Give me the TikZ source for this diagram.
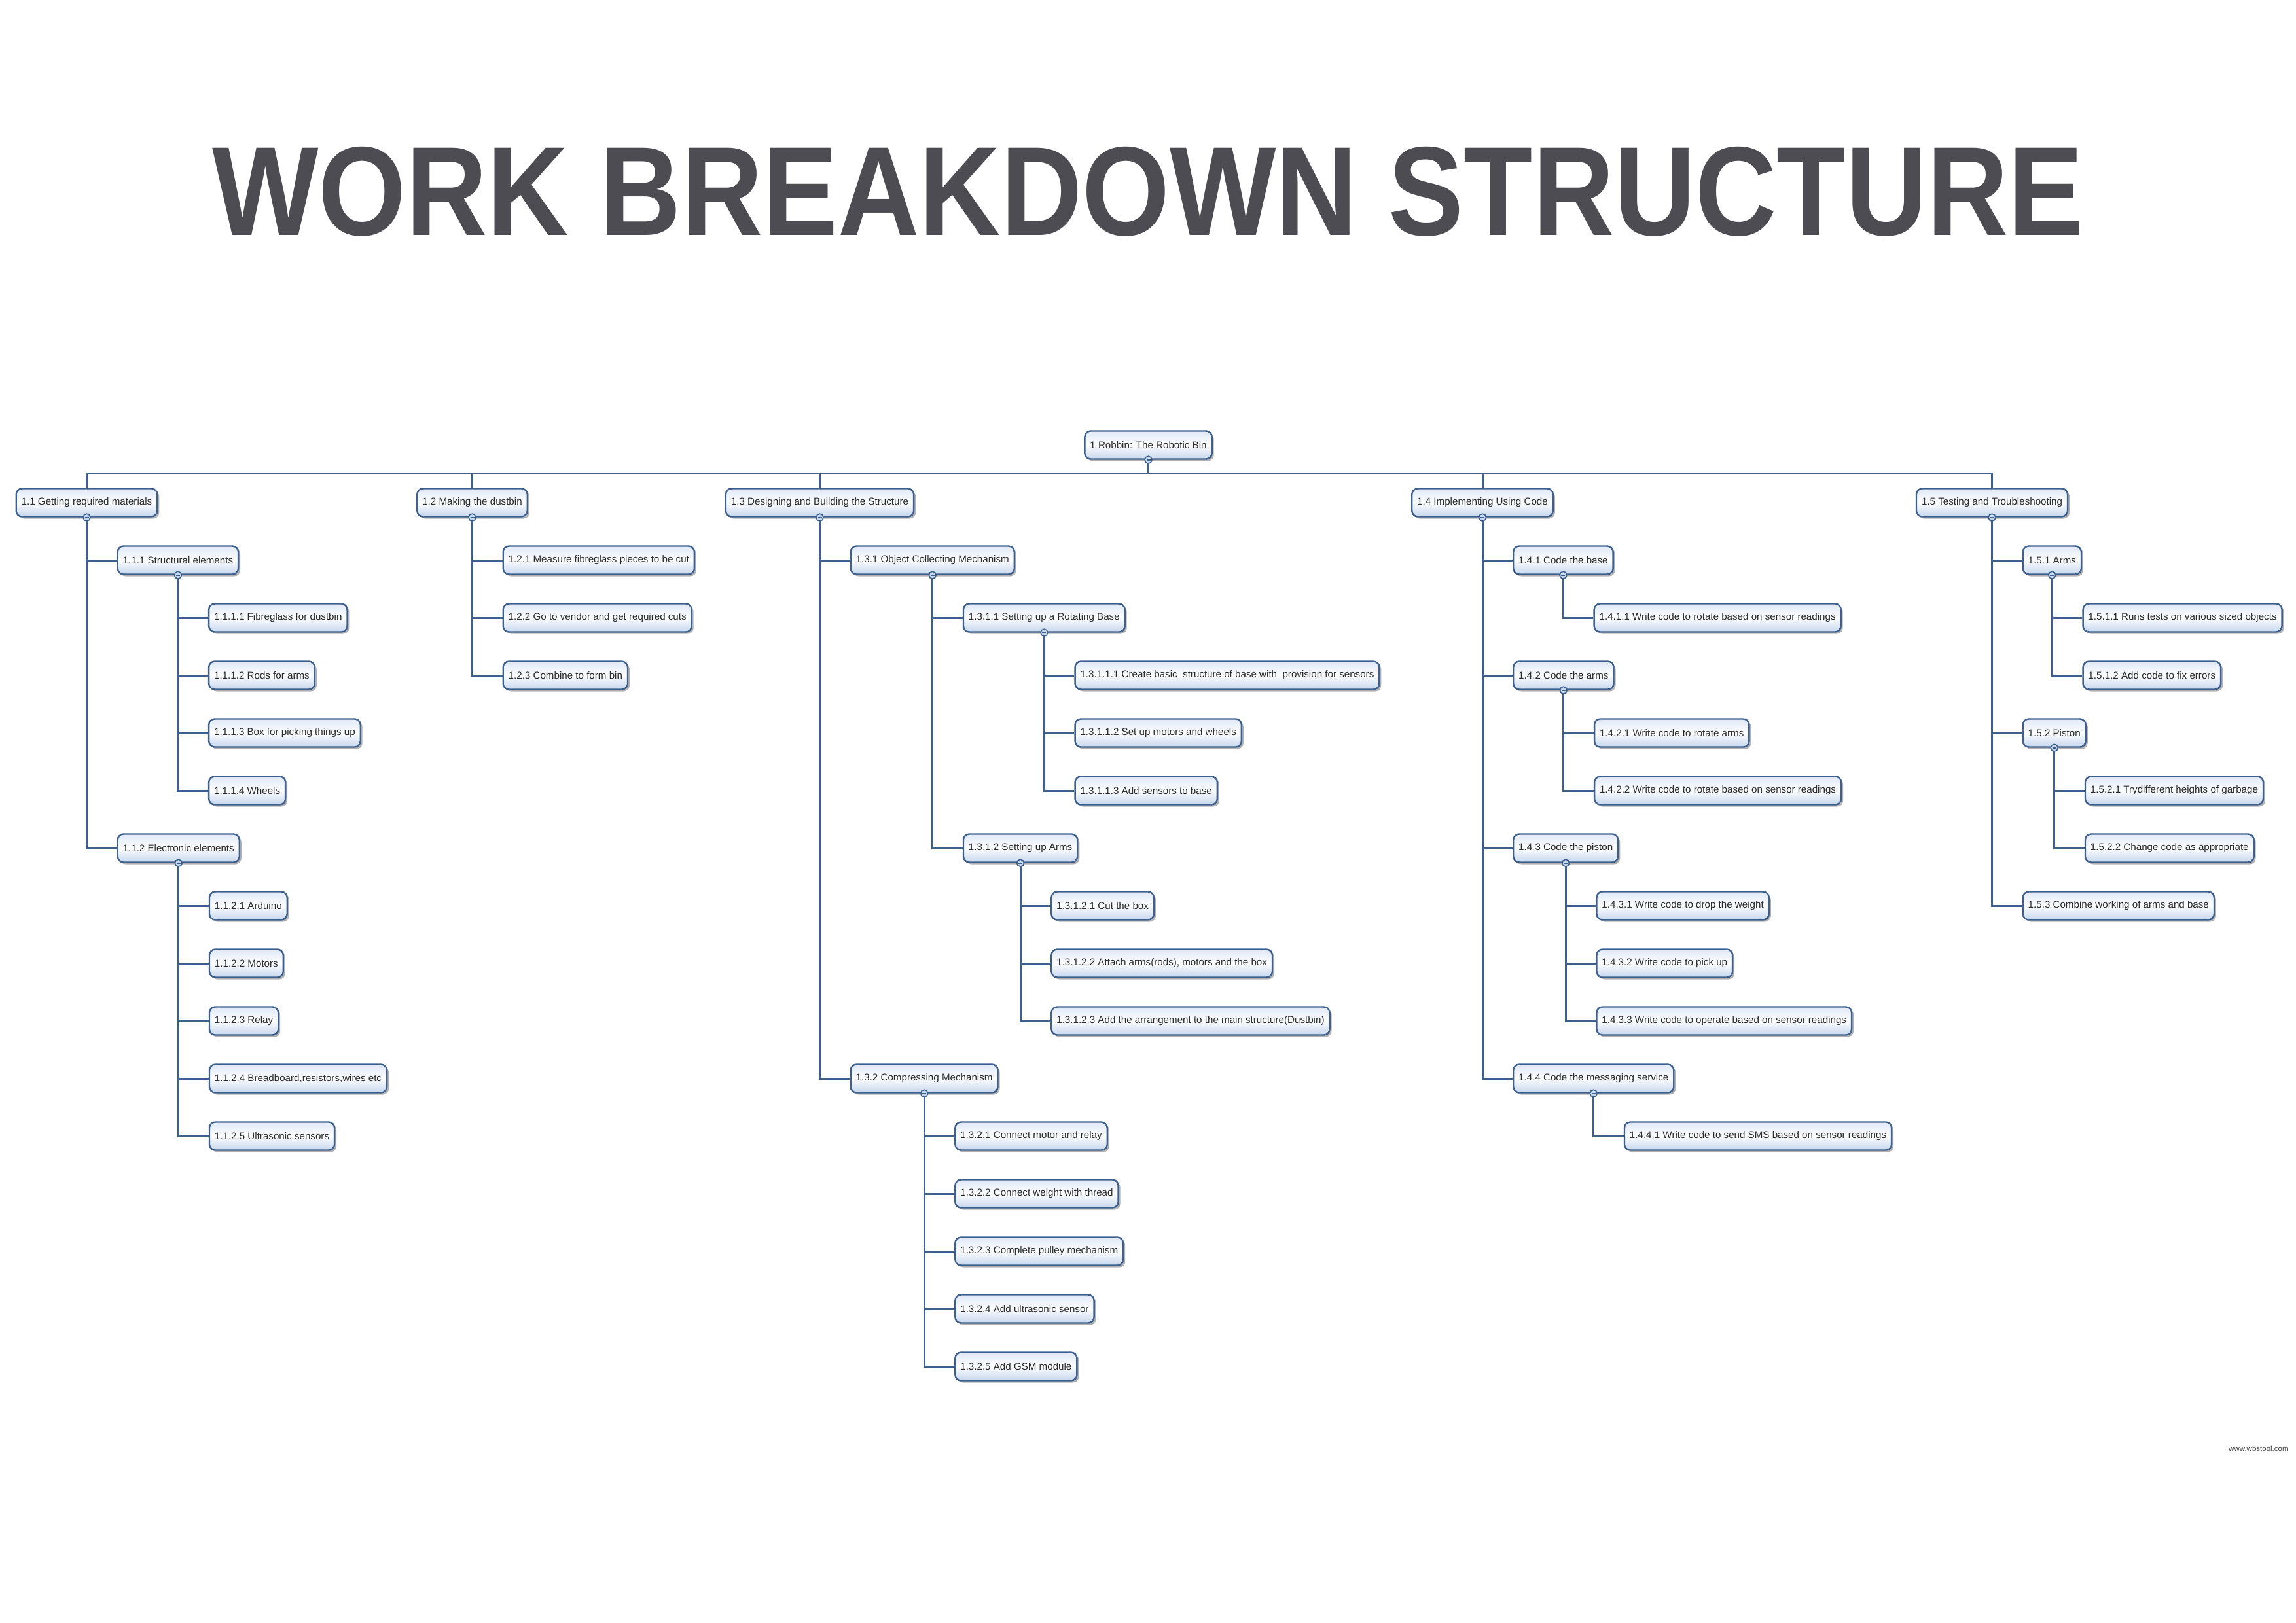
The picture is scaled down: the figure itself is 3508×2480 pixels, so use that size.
\documentclass[tikz,border=0pt]{standalone}
\usepackage{graphicx}
\usepackage{fontspec}
\setmainfont{Liberation Sans}
\usetikzlibrary{shadows}
\definecolor{wbsline}{RGB}{62,96,142}
\definecolor{wbstop}{RGB}{224,233,246}
\definecolor{wbsbot}{RGB}{198,215,238}
\definecolor{wbstext}{RGB}{45,45,45}
\definecolor{titlegray}{RGB}{77,76,82}
\definecolor{knobfill}{RGB}{200,216,236}
\tikzset{
  wbs/.style={draw=wbsline, line width=2.4pt, rounded corners=9pt,
    top color=wbstop, bottom color=wbsbot, middle color=white!92!wbstop,
    minimum height=43pt, inner xsep=8pt, inner ysep=0pt,
    font=\fontsize{15.15}{18}\selectfont, text=wbstext,
    drop shadow={shadow xshift=3pt, shadow yshift=-3pt, opacity=0.3, fill=black}},
  conn/.style={draw=wbsline, line width=3pt},
  knob/.style={circle, draw=wbsline, line width=1.6pt, fill=knobfill, minimum size=11pt, inner sep=0pt},
}
% parent, name, row, text
\newcommand{\wbsat}[4]{%
  \coordinate (#2-x) at ([xshift=46pt]#1.south);
  \node[wbs, anchor=west] (#2) at (#2-x |- r#3) {#4};
  \draw[conn] (#1.south) |- (#2.west);
}
\newcommand{\wbsknob}[1]{%
  \node[knob] (#1-k) at (#1.south) {};
  \draw[wbsline, line width=1.6pt] ([xshift=-3pt]#1-k.center) -- ([xshift=3pt]#1-k.center);
}
\begin{document}
\begin{tikzpicture}[x=1pt,y=-1pt]
\fill[white] (0,0) rectangle (3508,2480);
\useasboundingbox (0,0) rectangle (3508,2480);
\foreach \k in {0,...,16} \coordinate (r\k) at (0,{680+88*\k});
\coordinate (bus) at (0,723);

% title
\node[anchor=base west, inner sep=0pt, text=titlegray] (title) at (324,360)
  {\resizebox{2858pt}{135pt}{\bfseries WORK BREAKDOWN STRUCTURE}};

% root and level 1
\node[wbs] (root) at (1754.5,680) {1 Robbin: The Robotic Bin};
\node[wbs] (n11) at (132.5,768) {1.1 Getting required materials};
\node[wbs] (n12) at (721.5,768) {1.2 Making the dustbin};
\node[wbs] (n13) at (1252.5,768) {1.3 Designing and Building the Structure};
\node[wbs] (n14) at (2265,768) {1.4 Implementing Using Code};
\node[wbs] (n15) at (3043.5,768) {1.5 Testing and Troubleshooting};
\foreach \n in {n11,n12,n13,n14,n15}
  \draw[conn] (root.south) -- (root.south |- bus) -| (\n.north);

% 1.1
\wbsat{n11}{n111}{2}{1.1.1 Structural elements}
\wbsat{n111}{n1111}{3}{1.1.1.1 Fibreglass for dustbin}
\wbsat{n111}{n1112}{4}{1.1.1.2 Rods for arms}
\wbsat{n111}{n1113}{5}{1.1.1.3 Box for picking things up}
\wbsat{n111}{n1114}{6}{1.1.1.4 Wheels}
\wbsat{n11}{n112}{7}{1.1.2 Electronic elements}
\wbsat{n112}{n1121}{8}{1.1.2.1 Arduino}
\wbsat{n112}{n1122}{9}{1.1.2.2 Motors}
\wbsat{n112}{n1123}{10}{1.1.2.3 Relay}
\wbsat{n112}{n1124}{11}{1.1.2.4 Breadboard,resistors,wires etc}
\wbsat{n112}{n1125}{12}{1.1.2.5 Ultrasonic sensors}

% 1.2
\wbsat{n12}{n121}{2}{1.2.1 Measure fibreglass pieces to be cut}
\wbsat{n12}{n122}{3}{1.2.2 Go to vendor and get required cuts}
\wbsat{n12}{n123}{4}{1.2.3 Combine to form bin}

% 1.3
\wbsat{n13}{n131}{2}{1.3.1 Object Collecting Mechanism}
\wbsat{n131}{n1311}{3}{1.3.1.1 Setting up a Rotating Base}
\wbsat{n1311}{n13111}{4}{1.3.1.1.1 Create basic\ \ structure of base with\ \ provision for sensors}
\wbsat{n1311}{n13112}{5}{1.3.1.1.2 Set up motors and wheels}
\wbsat{n1311}{n13113}{6}{1.3.1.1.3 Add sensors to base}
\wbsat{n131}{n1312}{7}{1.3.1.2 Setting up Arms}
\wbsat{n1312}{n13121}{8}{1.3.1.2.1 Cut the box}
\wbsat{n1312}{n13122}{9}{1.3.1.2.2 Attach arms(rods), motors and the box}
\wbsat{n1312}{n13123}{10}{1.3.1.2.3 Add the arrangement to the main structure(Dustbin)}
\wbsat{n13}{n132}{11}{1.3.2 Compressing Mechanism}
\wbsat{n132}{n1321}{12}{1.3.2.1 Connect motor and relay}
\wbsat{n132}{n1322}{13}{1.3.2.2 Connect weight with thread}
\wbsat{n132}{n1323}{14}{1.3.2.3 Complete pulley mechanism}
\wbsat{n132}{n1324}{15}{1.3.2.4 Add ultrasonic sensor}
\wbsat{n132}{n1325}{16}{1.3.2.5 Add GSM module}

% 1.4
\wbsat{n14}{n141}{2}{1.4.1 Code the base}
\wbsat{n141}{n1411}{3}{1.4.1.1 Write code to rotate based on sensor readings}
\wbsat{n14}{n142}{4}{1.4.2 Code the arms}
\wbsat{n142}{n1421}{5}{1.4.2.1 Write code to rotate arms}
\wbsat{n142}{n1422}{6}{1.4.2.2 Write code to rotate based on sensor readings}
\wbsat{n14}{n143}{7}{1.4.3 Code the piston}
\wbsat{n143}{n1431}{8}{1.4.3.1 Write code to drop the weight}
\wbsat{n143}{n1432}{9}{1.4.3.2 Write code to pick up}
\wbsat{n143}{n1433}{10}{1.4.3.3 Write code to operate based on sensor readings}
\wbsat{n14}{n144}{11}{1.4.4 Code the messaging service}
\wbsat{n144}{n1441}{12}{1.4.4.1 Write code to send SMS based on sensor readings}

% 1.5
\wbsat{n15}{n151}{2}{1.5.1 Arms}
\wbsat{n151}{n1511}{3}{1.5.1.1 Runs tests on various sized objects}
\wbsat{n151}{n1512}{4}{1.5.1.2 Add code to fix errors}
\wbsat{n15}{n152}{5}{1.5.2 Piston}
\wbsat{n152}{n1521}{6}{1.5.2.1 Trydifferent heights of garbage}
\wbsat{n152}{n1522}{7}{1.5.2.2 Change code as appropriate}
\wbsat{n15}{n153}{8}{1.5.3 Combine working of arms and base}

% collapse knobs
\foreach \n in {root,n11,n12,n13,n14,n15,n111,n112,n131,n1311,n1312,n132,n141,n142,n143,n144,n151,n152}
  {\wbsknob{\n}}

% watermark
\node[anchor=west, inner sep=0pt, font=\fontsize{11.5}{13}\selectfont, text=black!75] (wm) at (3405,2213) {www.wbstool.com};
\end{tikzpicture}
\end{document}
